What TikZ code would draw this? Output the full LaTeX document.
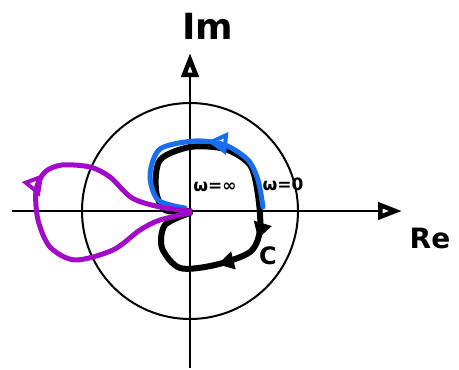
\documentclass[tikz,border=0pt]{standalone}
\usepackage{amsmath, amssymb}
\usepackage{fontspec}
\setsansfont{DejaVu Sans}
\usepackage{tikz}
\usetikzlibrary{calc, arrows.meta, decorations.markings}
\usepackage{xcolor}
\definecolor{nyqblue}{RGB}{25,110,240}
\definecolor{nyqpurple}{RGB}{160,10,200}

\begin{document}
\begin{tikzpicture}[x=1pt, y=-1pt, font=\sffamily\bfseries,
    axis/.style={line width=2pt, -{Triangle[open, length=24pt, width=17pt, line width=4.5pt]}},
    contour/.style={line width=6pt, line cap=round, line join=round},
    tipmark/.style={postaction={decorate, decoration={markings, mark=at position #1 with {\arrow[line width=3pt]{Triangle[length=16pt, width=18pt]}}}}},
    opentip/.style={postaction={decorate, decoration={markings, mark=at position #1 with {\arrow[line width=4pt]{Triangle[open, length=20pt, width=22pt]}}}}},
    lbl/.style={inner sep=0pt, font=\sffamily\bfseries\fontsize{#1}{#1}\selectfont}]
    \useasboundingbox (0,0) rectangle (459,370);
    \coordinate (O) at (190,211);
    \coordinate (xl) at (12,211);
    \coordinate (xr) at (402,211);
    \coordinate (yb) at (190,368);
    \coordinate (yt) at (190,53);
    \draw[axis] (xl) -- (xr);
    \draw[axis] (yb) -- (yt);
    \draw[line width=2pt] (O) circle (108);
    \node[lbl=36] (im) at (208,26) {Im};
    \node[lbl=28] (re) at (430,238) {Re};
    % black contour
    \draw[contour, tipmark=0.6, tipmark=0.72] plot[smooth] coordinates {(190,211) (165,210) (156,190) (160,160) (190,147) (225,149) (250,165) (258,195) (260,230) (250,252) (215,265) (180,268) (162,248) (165,225) (190,213)};
    % image of the contour
    \draw[contour, line width=5pt, nyqblue, opentip=0.42] plot[smooth] coordinates {(263,207) (258,180) (248,160) (225,145) (195,141) (160,149) (150,175) (158,200) (185,208)};
    \draw[contour, line width=5pt, nyqpurple, opentip=0.59] plot[smooth] coordinates {(190,213) (160,220) (140,230) (113,250) (75,260) (50,247) (38,220) (36,190) (45,172) (62,165) (90,167) (110,177) (132,198) (160,207) (190,211)};
    \node[lbl=17] (winf) at (215,187) {ω=∞};
    \node[lbl=17] (wzero) at (283,184) {ω=0};
    \node[lbl=24] (clab) at (268,256) {C};
  \end{tikzpicture}
\end{document}
